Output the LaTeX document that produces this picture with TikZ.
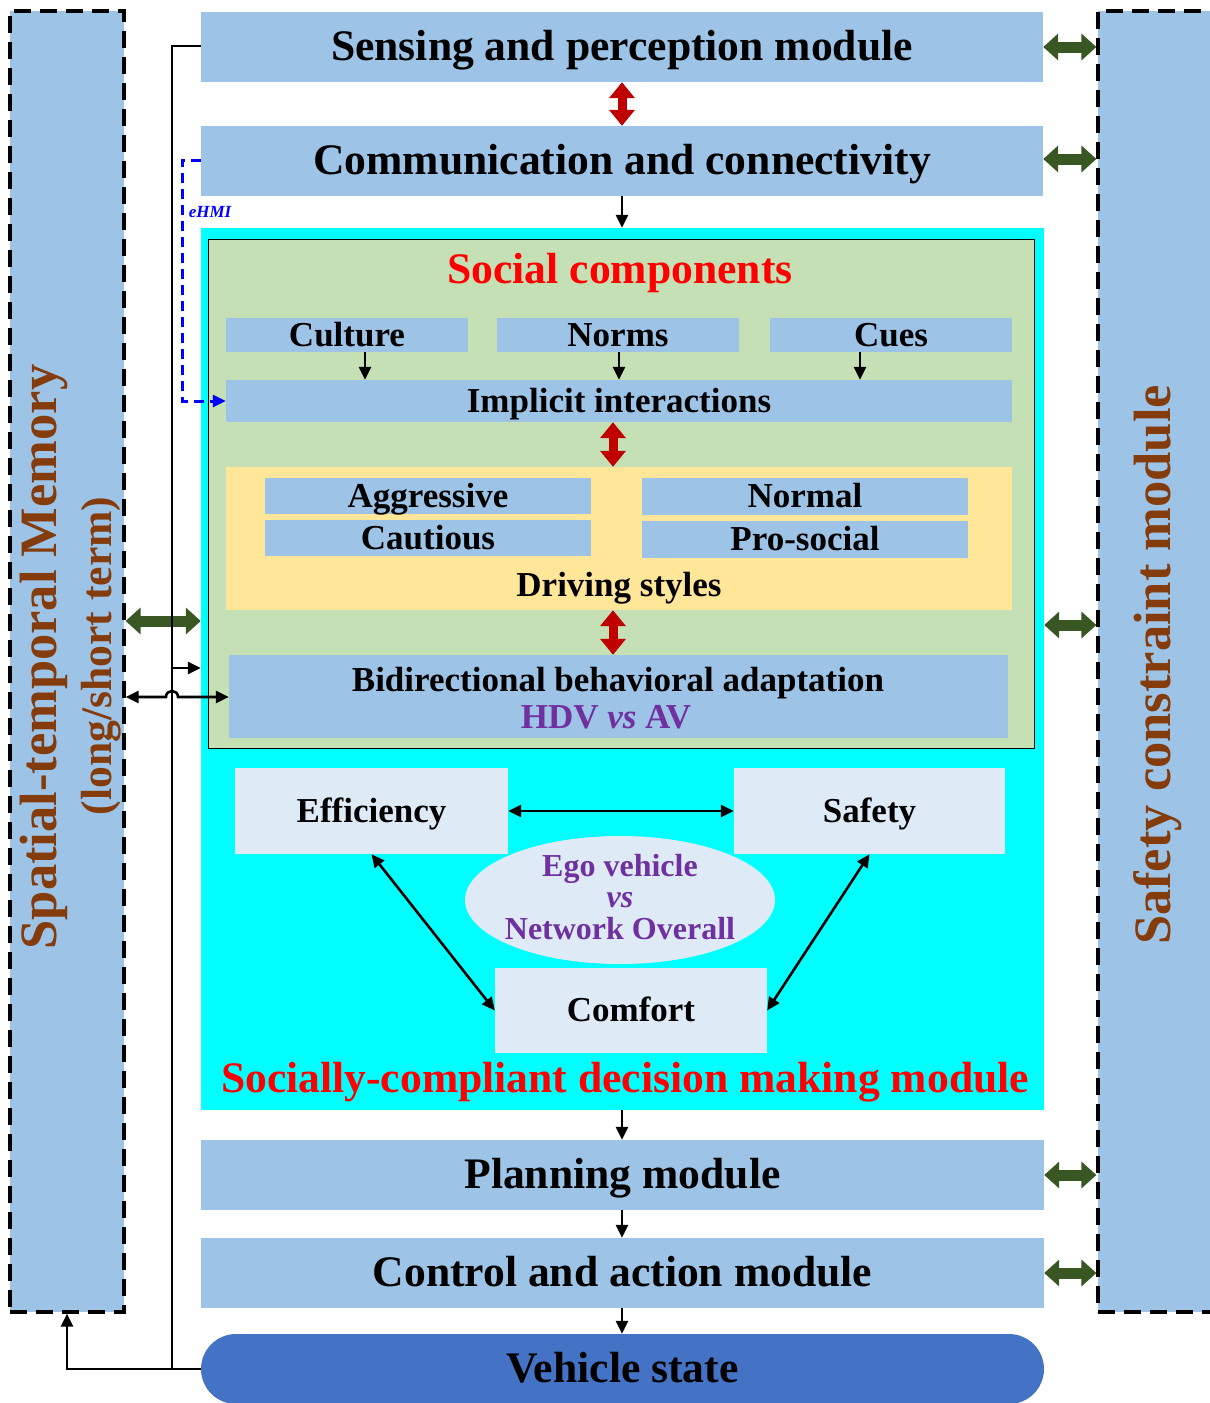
\documentclass[tikz,border=0pt]{standalone}
\usepackage{fontspec}
\setmainfont{Liberation Serif}
\usetikzlibrary{arrows.meta,shapes.geometric}
\definecolor{lb}{HTML}{9DC3E6}
\definecolor{cy}{HTML}{00FFFF}
\definecolor{gr}{HTML}{C5E0B4}
\definecolor{ye}{HTML}{FFE699}
\definecolor{pb}{HTML}{DEEBF7}
\definecolor{db}{HTML}{4472C4}
\definecolor{br}{HTML}{843C0C}
\definecolor{rt}{HTML}{FF0000}
\definecolor{dr}{HTML}{C00000}
\definecolor{dg}{HTML}{385723}
\definecolor{pu}{HTML}{7030A0}
\definecolor{bl}{HTML}{0000FF}
\begin{document}
\begin{tikzpicture}[x=1pt,y=-1pt,
  fixL/.style={text height=32.7pt,text depth=4.8pt},
  fixS/.style={text height=26.3pt,text depth=3.9pt},
  box/.style={fill=lb,inner sep=0pt,text=black},
  lbox/.style={box,fixL,minimum width=842pt,minimum height=70pt,font=\fontsize{43.6}{48}\selectfont\bfseries},
  sbox/.style={box,fixS,font=\fontsize{35}{38}\selectfont\bfseries},
  pbox/.style={fill=pb,inner sep=0pt,fixS,minimum width=272pt,minimum height=86pt,font=\fontsize{35}{38}\selectfont\bfseries},
  dash box/.style={fill=lb,draw=black,line width=3.2pt,dash pattern=on 17pt off 9pt,inner sep=0pt},
  blk/.style={draw=black,line width=2.6pt},
  blkarr/.style={blk,-{Triangle[width=12pt,length=13pt]}},
  blkdbl/.style={blk,{Triangle[width=12pt,length=13pt]}-{Triangle[width=12pt,length=13pt]}},
  grarr/.style={draw=dg,line width=11pt,{Triangle[width=26pt,length=15pt]}-{Triangle[width=26pt,length=15pt]}},
  redarr/.style={draw=dr,line width=9pt,{Triangle[width=25pt,length=16pt]}-{Triangle[width=25pt,length=16pt]}},
  bluearr/.style={draw=bl,line width=3pt,dash pattern=on 10pt off 6pt,-{Triangle[width=12pt,length=13pt]}}
]
\path[use as bounding box] (0,0) rectangle (1210,1403);
\clip (0,0) rectangle (1210,1403);

% side modules
\node[dash box,minimum width=114pt,minimum height=1301pt] (mem) at (67,661.5) {};
\node[dash box,minimum width=116pt,minimum height=1301pt] (safe) at (1156,661.5) {};
\node[rotate=90,text=br,font=\fontsize{52.5}{56}\selectfont\bfseries] (memt) at (44,657) {Spatial-temporal Memory};
\node[rotate=90,text=br,font=\fontsize{43.6}{48}\selectfont\bfseries] (memt2) at (101,656) {(long/short term)};
\node[rotate=90,text=br,font=\fontsize{52.5}{56}\selectfont\bfseries] (safet) at (1158,665) {Safety constraint module};

% main column
\node[lbox] (sense) at (622,47) {Sensing and perception module};
\node[lbox] (comm) at (622,161) {Communication and connectivity};
\node[fill=cy,inner sep=0pt,minimum width=843pt,minimum height=882pt] (cyan) at (622.5,669) {};
\node[fill=gr,draw=black,line width=1pt,inner sep=0pt,minimum width=826pt,minimum height=509pt] (green) at (621,493.5) {};
\node[fixL,text=rt,font=\fontsize{43.6}{48}\selectfont\bfseries] (socialt) at (620,270) {Social components};

\node[sbox,minimum width=242pt,minimum height=34pt] (culture) at (347,335) {Culture};
\node[sbox,minimum width=242pt,minimum height=34pt] (norms) at (618,335) {Norms};
\node[sbox,minimum width=242pt,minimum height=34pt] (cues) at (891,335) {Cues};
\node[sbox,minimum width=786pt,minimum height=42pt] (implicit) at (619,401) {Implicit interactions};

\node[fill=ye,inner sep=0pt,minimum width=786pt,minimum height=143pt] (drive) at (619,538.5) {};
\node[sbox,minimum width=326pt,minimum height=36pt] (aggr) at (428,496) {Aggressive};
\node[sbox,minimum width=326pt,minimum height=36pt] (caut) at (428,538) {Cautious};
\node[sbox,minimum width=326pt,minimum height=37pt] (normal) at (805,496.5) {Normal};
\node[sbox,minimum width=326pt,minimum height=37pt] (pros) at (805,539.5) {Pro-social};
\node[fixS,font=\fontsize{35}{38}\selectfont\bfseries] (drivet) at (619,585) {Driving styles};

\node[box,minimum width=779pt,minimum height=83pt] (bidir) at (618.5,696.5) {};
\node[fixS,font=\fontsize{35}{38}\selectfont\bfseries] (bidirt) at (618,680) {Bidirectional behavioral adaptation};
\node[fixS,text=pu,font=\fontsize{35}{38}\selectfont\bfseries] (hdv) at (606,717) {HDV \textit{vs} AV};

\node[pbox,minimum width=273pt] (eff) at (371.5,811) {Efficiency};
\node[pbox,minimum width=271pt] (safety) at (869.5,811) {Safety};
\node[pbox,minimum height=85pt] (comfort) at (631,1010.5) {Comfort};
\node[ellipse,fill=pb,inner sep=0pt,minimum width=310pt,minimum height=128pt] (ego) at (620,900) {};
\node[align=center,text=pu,inner sep=0pt,font=\fontsize{32}{31.5}\selectfont\bfseries] (egot) at (620,897) {Ego vehicle\\\textit{vs}\\Network Overall};
\node[fixL,text=rt,font=\fontsize{43.6}{48}\selectfont\bfseries] (sct) at (625,1079) {Socially-compliant decision making module};

\node[lbox,minimum width=843pt] (plan) at (622.5,1175) {Planning module};
\node[lbox,minimum width=843pt] (ctrl) at (622.5,1273) {Control and action module};
\node[lbox,minimum width=843pt,fill=db,rounded corners=35pt] (vstate) at (622.5,1369) {Vehicle state};

% vertical flow arrows
\draw[redarr] (sense.south -| 622,0) -- (comm.north -| 622,0);
\draw[blkarr] (comm.south) -- (cyan.north -| comm.south);
\draw[blkarr] (culture.south -| 365,0) -- (implicit.north -| 365,0);
\draw[blkarr] (norms.south -| 619,0) -- (implicit.north -| 619,0);
\draw[blkarr] (cues.south -| 860,0) -- (implicit.north -| 860,0);
\draw[redarr] (implicit.south -| 613,0) -- (drive.north -| 613,0);
\draw[redarr] (drive.south -| 613,0) -- (bidir.north -| 613,0);
\draw[blkdbl] (eff.east) -- (safety.west);
\draw[blkdbl] (eff.south) -- (comfort.west);
\draw[blkdbl] (safety.south) -- (comfort.east);
\draw[blkarr] (cyan.south -| 622,0) -- (plan.north -| 622,0);
\draw[blkarr] (plan.south -| 622,0) -- (ctrl.north -| 622,0);
\draw[blkarr] (ctrl.south -| 622,0) -- (vstate.north -| 622,0);

% green side arrows
\draw[grarr] (sense.east) -- (safe.west |- sense.east);
\draw[grarr] (comm.east |- 0,159) -- (safe.west |- 0,159);
\draw[grarr] (cyan.east |- 0,625) -- (safe.west |- 0,625);
\draw[grarr] (plan.east) -- (safe.west |- plan.east);
\draw[grarr] (ctrl.east) -- (safe.west |- ctrl.east);
\draw[grarr] (mem.east |- 0,621) -- (cyan.west |- 0,621);

% feedback lines
\coordinate (fb) at (172,1369);
\draw[blk] (vstate.west) -- (fb) -- (172,46) -- (sense.west |- 0,46);
\draw[blkarr] (fb) -- (67,1369) -- (mem.south);
\draw[blkarr] (172,668) -- (cyan.west |- 0,668);
\draw[blkdbl] (mem.east |- 0,697) -- (166,697) .. controls (166,689) and (178,689) .. (178,697) -- (bidir.west |- 0,697);

% eHMI
\draw[bluearr] (comm.west |- 0,160) -- (182,160) -- (182,401) -- (implicit.west);
\node[text=bl,font=\fontsize{17}{17}\selectfont\bfseries\itshape] (ehmi) at (210,212) {eHMI};
\end{tikzpicture}
\end{document}
